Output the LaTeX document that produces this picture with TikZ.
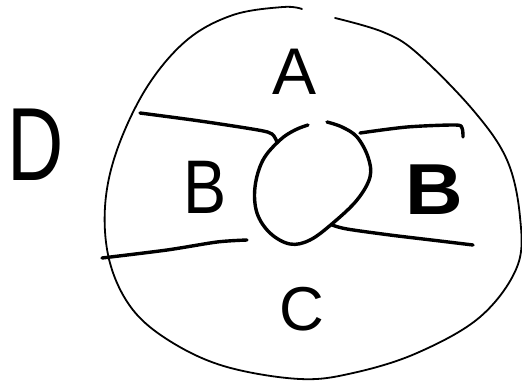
\documentclass[tikz,border=0pt]{standalone}
\usepackage{fontspec}
\setmainfont{Liberation Sans}
\begin{document}
\begin{tikzpicture}[x=1pt,y=-1pt,line cap=round,line join=round,
  thinstroke/.style={line width=1.8pt},
  thickstroke/.style={line width=3.4pt},
  letter/.style={inner sep=0pt,anchor=center}]
\useasboundingbox (0,0) rectangle (522,381);
% outer region D
\draw[thinstroke] plot[smooth,tension=0.6] coordinates {(302,9) (283,7) (233,15) (187,40) (147,87) (117,150) (105,207) (110,263) (133,310) (173,343) (227,367) (300,379) (353,373) (417,353) (480,317) (517,267) (520,217) (507,160) (473,110) (417,53) (383,32) (335,18)};
% inner circle
\draw[thickstroke] plot[smooth,tension=0.6] coordinates {(308,125) (295,130) (280,140) (263,160) (255,187) (257,213) (270,233) (290,244) (310,240) (333,223) (357,200) (370,177) (368,157) (357,137) (342,127) (327,122)};
% band lines
\draw[thickstroke] plot[smooth,tension=0.5] coordinates {(140,113) (200,121) (258,130) (272,134) (277,142)};
\draw[thickstroke] plot[smooth,tension=0.5] coordinates {(102,258) (167,250) (217,242) (247,240)};
\draw[thickstroke] plot[smooth,tension=0.5] coordinates {(360,133) (407,127) (455,125) (462,128) (463,137)};
\draw[thickstroke] plot[smooth,tension=0.5] coordinates {(332,225) (347,229) (390,235) (440,241) (473,245)};
% labels
\node[letter] (A) at (295,72) {\fontsize{66}{66}\selectfont A};
\node[letter] (B1) at (205,187) {\scalebox{0.85}[1]{\fontsize{76}{76}\selectfont B}};
\node[letter] (B2) at (434,190) {\scalebox{1.05}[0.95]{\fontsize{76}{76}\selectfont\bfseries B}};
\node[letter] (C) at (302,309) {\fontsize{62}{62}\selectfont C};
\node[letter] (D) at (36,145) {\scalebox{0.75}[1]{\fontsize{104}{104}\selectfont D}};
\end{tikzpicture}
\end{document}
